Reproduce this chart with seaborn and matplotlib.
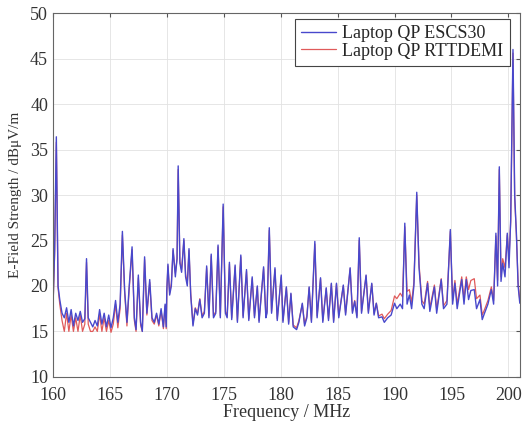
import numpy as np
import pandas as pd
import seaborn as sns
import matplotlib
matplotlib.use("Agg")
import matplotlib.pyplot as plt

# frequencies in MHz (peaks and troughs)
freq = [160.0, 160.15, 160.3, 160.45, 160.6, 160.8, 161.0, 161.2, 161.4, 161.6,
        161.8, 162.0, 162.2, 162.4, 162.6, 162.8, 162.95, 163.1, 163.3, 163.5,
        163.7, 163.9, 164.1, 164.3, 164.5, 164.7, 164.9, 165.1, 165.3, 165.5,
        165.7, 165.9, 166.1, 166.3, 166.5, 166.7, 166.95, 167.15, 167.3, 167.5,
        167.7, 167.85, 168.05, 168.25, 168.5, 168.7, 168.9, 169.1, 169.3, 169.5,
        169.7, 169.85, 169.95, 170.0, 170.1, 170.25, 170.4, 170.55, 170.75, 170.9,
        171.0, 171.15, 171.3, 171.5, 171.65, 171.8, 171.95, 172.1, 172.3, 172.5,
        172.7, 172.9, 173.1, 173.3, 173.5, 173.7, 173.9, 174.1, 174.3, 174.5,
        174.7, 174.95, 175.15, 175.3, 175.5, 175.7, 176.0, 176.2, 176.5, 176.7,
        177.0, 177.2, 177.5, 177.7, 177.95, 178.1, 178.5, 178.7, 178.8, 179.0,
        179.2, 179.5, 179.7, 180.05, 180.2, 180.5, 180.7, 180.9, 181.1, 181.4,
        181.6, 181.9, 182.1, 182.3, 182.5, 182.7, 183.0, 183.2, 183.5, 183.7,
        184.0, 184.2, 184.45, 184.65, 184.9, 185.1, 185.5, 185.7, 186.1, 186.3,
        186.5, 186.7, 186.9, 187.1, 187.5, 187.7, 188.0, 188.2, 188.4, 188.6,
        188.9, 189.1, 189.4, 189.7, 190.0, 190.2, 190.5, 190.7, 190.9, 191.1,
        191.3, 191.5, 191.7, 191.95, 192.15, 192.4, 192.6, 192.9, 193.1, 193.5,
        193.7, 194.1, 194.3, 194.6, 194.9, 195.1, 195.3, 195.5, 195.9, 196.1,
        196.3, 196.5, 196.7, 197.0, 197.2, 197.5, 197.7, 197.9, 198.2, 198.5,
        198.7, 198.9, 199.05, 199.2, 199.35, 199.5, 199.7, 199.9, 200.05, 200.2,
        200.4, 200.55, 200.7, 200.85, 201.0]

escs30 = [17.5, 24.0, 36.4, 20.0, 18.5, 17.0, 16.5, 17.6, 16.0, 17.4,
          15.6, 17.0, 16.2, 17.2, 16.0, 16.4, 23.0, 16.5, 16.0, 15.5,
          16.2, 15.6, 17.4, 15.8, 17.0, 15.5, 16.8, 15.4, 16.5, 18.4,
          16.0, 18.0, 26.0, 19.5, 16.0, 20.0, 24.3, 16.5, 15.2, 21.2,
          16.0, 15.0, 23.2, 17.0, 20.7, 16.5, 16.0, 17.0, 15.8, 17.5,
          15.5, 18.0, 15.5, 19.5, 22.4, 19.0, 20.0, 24.1, 21.0, 23.0,
          33.2, 22.5, 21.5, 25.2, 21.0, 20.0, 24.1, 19.0, 15.6, 17.5,
          16.8, 18.5, 16.5, 17.0, 22.2, 16.5, 23.5, 16.5, 17.0, 24.5,
          16.5, 29.0, 17.0, 16.5, 22.6, 16.3, 22.3, 16.0, 23.4, 16.5,
          21.8, 16.2, 21.0, 16.5, 20.0, 16.0, 22.1, 16.5, 17.0, 26.4,
          17.0, 22.0, 16.2, 21.2, 16.0, 19.9, 15.8, 19.2, 15.5, 15.2,
          16.0, 18.1, 15.6, 16.5, 19.9, 16.0, 24.9, 16.5, 20.9, 16.0,
          19.8, 16.2, 20.3, 16.0, 20.3, 16.5, 20.1, 16.8, 22.0, 17.0,
          18.3, 16.5, 25.3, 17.0, 21.2, 17.0, 20.3, 16.8, 18.1, 16.5,
          16.6, 16.0, 16.5, 16.8, 18.1, 17.5, 18.0, 17.5, 26.9, 18.0,
          19.0, 17.5, 20.0, 30.3, 22.0, 18.0, 17.5, 20.3, 17.2, 19.9,
          17.0, 20.7, 17.5, 18.0, 26.2, 18.0, 20.3, 17.5, 20.7, 18.0,
          20.7, 18.5, 19.5, 19.6, 17.5, 18.5, 16.3, 17.0, 18.0, 19.6,
          18.0, 25.8, 20.0, 33.1, 20.5, 22.5, 21.0, 25.8, 22.0, 27.3,
          46.0, 30.0, 25.8, 20.0, 18.1]

rttdemi = [17.3, 23.5, 35.8, 19.8, 18.0, 16.2, 15.0, 17.0, 15.0, 16.8,
           15.0, 16.5, 15.0, 16.8, 15.0, 15.8, 22.6, 15.8, 15.0, 15.0,
           15.5, 15.0, 16.9, 15.0, 16.5, 15.0, 16.2, 14.9, 15.8, 18.0,
           15.4, 17.5, 25.6, 19.2, 15.6, 19.7, 24.0, 16.2, 15.0, 20.9,
           15.7, 15.0, 22.9, 16.8, 20.4, 16.2, 15.8, 16.8, 15.6, 17.3,
           15.3, 17.8, 15.3, 19.4, 22.2, 19.2, 20.3, 23.9, 21.4, 23.0,
           32.8, 22.7, 21.8, 25.0, 21.3, 20.3, 23.9, 19.2, 15.8, 17.6,
           17.0, 18.6, 16.7, 17.2, 22.0, 16.7, 23.3, 16.7, 17.2, 24.3,
           16.7, 28.7, 17.2, 16.7, 22.4, 16.5, 22.1, 16.2, 23.2, 16.7,
           21.6, 16.4, 20.8, 16.7, 19.9, 16.2, 21.9, 16.7, 17.2, 26.1,
           17.2, 21.8, 16.4, 21.0, 16.2, 19.8, 16.0, 19.1, 15.7, 15.4,
           16.2, 18.0, 15.8, 16.7, 19.8, 16.2, 24.6, 16.7, 20.8, 16.2,
           19.7, 16.4, 20.2, 16.2, 20.2, 16.7, 20.0, 17.0, 21.9, 17.2,
           18.4, 16.7, 25.0, 17.2, 21.1, 17.2, 20.2, 17.0, 18.1, 16.7,
           16.9, 16.4, 16.9, 17.3, 18.9, 18.6, 19.2, 18.8, 26.5, 19.4,
           19.6, 18.2, 20.4, 30.0, 22.4, 18.4, 18.0, 20.5, 17.6, 20.1,
           17.4, 20.8, 17.8, 18.4, 26.0, 18.4, 20.6, 18.0, 21.0, 18.6,
           21.0, 19.6, 20.6, 20.8, 18.6, 19.0, 16.8, 17.4, 18.4, 19.9,
           18.4, 25.5, 20.6, 32.8, 21.0, 23.0, 22.0, 25.6, 23.0, 27.0,
           45.6, 29.6, 25.6, 20.4, 18.4]

df = pd.DataFrame({
    "Frequency": freq * 2,
    "Level": escs30 + rttdemi,
    "Device": ["Laptop QP ESCS30"] * len(freq) + ["Laptop QP RTTDEMI"] * len(freq),
})

sns.set_style("white")
plt.rcParams["font.family"] = ["Liberation Serif", "DejaVu Serif"]

fig = plt.figure(figsize=(5.24, 4.23), dpi=100)
ax = fig.add_axes([0.101, 0.109, 0.891, 0.860])

# red underneath, blue on top
sns.lineplot(data=df[df.Device == "Laptop QP RTTDEMI"], x="Frequency", y="Level",
             color="#e05a5a", lw=0.9, ax=ax, label="Laptop QP RTTDEMI", estimator=None)
sns.lineplot(data=df[df.Device == "Laptop QP ESCS30"], x="Frequency", y="Level",
             color="#4848cc", lw=1.0, ax=ax, label="Laptop QP ESCS30", estimator=None)

ax.set_xlim(160, 201)
ax.set_ylim(10, 50)
ax.set_xticks(range(160, 201, 5))
ax.set_yticks(range(10, 51, 5))
ax.grid(True, color="#e2e2e2", linestyle="-", linewidth=0.6)
for s in ax.spines.values():
    s.set_color("#666666")
    s.set_linewidth(0.8)
ax.tick_params(direction="in", length=3, top=True, right=True, labelsize=13,
               colors="#555555", labelcolor="#333333")
ax.tick_params(axis="x", pad=7)
ax.set_xlabel("Frequency / MHz", fontsize=13, color="#333333", labelpad=0)
ax.set_ylabel("E-Field Strength / dB\u03bcV/m", fontsize=11, color="#333333", labelpad=6)

h, l = ax.get_legend_handles_labels()
leg = ax.legend(h[::-1], l[::-1], loc="upper right", fontsize=13, frameon=True,
                fancybox=False, bbox_to_anchor=(0.978, 0.985), borderaxespad=0.0,
                handlelength=1.9, borderpad=0.35, labelspacing=0.05,
                handletextpad=0.35)
leg.get_frame().set_edgecolor("#444444")
leg.get_frame().set_linewidth(0.8)
leg.get_frame().set_alpha(1)

fig.savefig("out.png", dpi=100)
